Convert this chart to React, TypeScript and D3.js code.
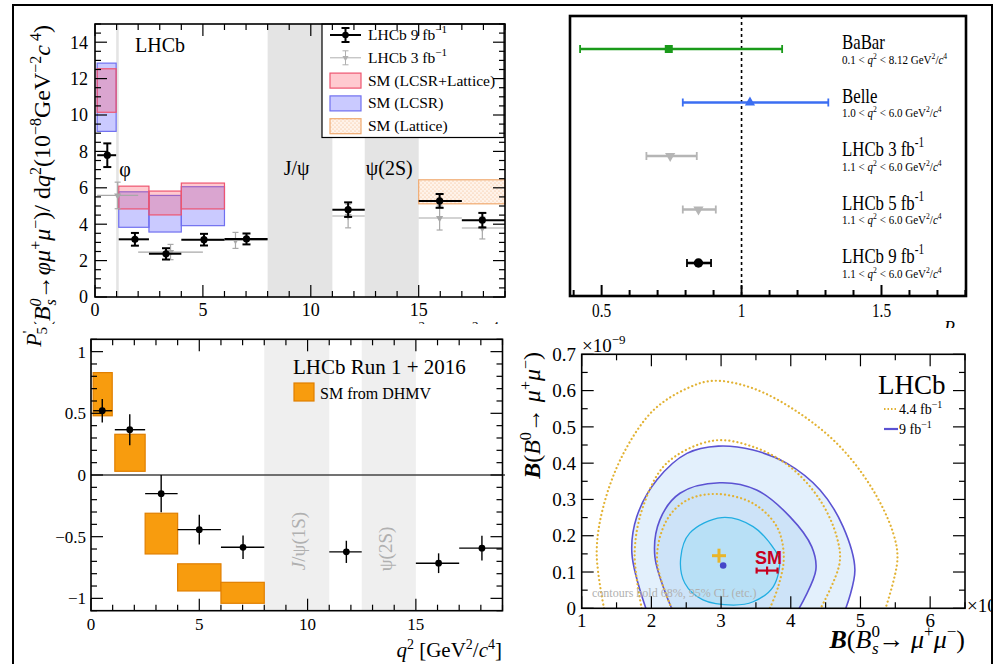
import React from 'react';
import * as d3 from 'd3';

const SERIF = "'Liberation Serif', 'Times New Roman', Times, serif";
const SANS = "'Liberation Sans', Arial, Helvetica, sans-serif";

// ---------------- Panel A: dB/dq2 (Bs -> phi mu mu) ----------------
const phiBandLo = [0.98, 8.0, 12.5];
const phiBandHi = [1.1, 11.0, 15.0];
const phiBandLabels = ['φ', 'J/ψ', 'ψ(2S)'];
const phi9Lo = [0.1, 1.1, 2.5, 4.0, 6.0, 11.0, 15.0, 17.0];
const phi9Hi = [0.98, 2.5, 4.0, 6.0, 8.0, 12.5, 17.0, 19.0];
const phi9X = [0.57, 1.85, 3.29, 5.05, 7.02, 11.73, 15.97, 17.95];
const phi9Val = [7.79, 3.17, 2.37, 3.15, 3.19, 4.8, 5.28, 4.22];
const phi9Err = [0.65, 0.35, 0.31, 0.32, 0.3, 0.4, 0.38, 0.4];
const phi3Lo = [0.1, 2.0, 5.0, 11.0, 15.0, 17.0];
const phi3Hi = [2.0, 5.0, 8.0, 12.5, 17.0, 19.0];
const phi3X = [1.05, 3.5, 6.51, 11.73, 15.97, 17.95];
const phi3Val = [5.58, 2.47, 3.11, 4.45, 4.34, 3.79];
const phi3Err = [0.73, 0.42, 0.44, 0.65, 0.66, 0.6];
const smLo = [0.1, 1.1, 2.5, 4.0];
const smHi = [0.98, 2.5, 4.0, 6.0];
const smLcsrLatMin = [10.15, 4.84, 4.51, 4.84];
const smLcsrLatMax = [12.54, 6.09, 5.82, 6.26];
const smLcsrMin = [9.1, 3.83, 3.57, 3.92];
const smLcsrMax = [12.85, 5.78, 5.58, 6.06];
const smLatLo = [15.0];
const smLatHi = [19.0];
const smLatMin = [5.12];
const smLatMax = [6.44];
const phiYTicks = [0, 2, 4, 6, 8, 10, 12, 14];
const phiXTicks = [0, 5, 10, 15];
const phiLegend = ['LHCb 9 fb', 'LHCb 3 fb', 'SM (LCSR+Lattice)', 'SM (LCSR)', 'SM (Lattice)'];

// ---------------- Panel B: R_K comparison ----------------
const rkNames = ['BaBar', 'Belle', 'LHCb 3 fb', 'LHCb 5 fb', 'LHCb 9 fb'];
const rkSup = ['', '', '-1', '-1', '-1'];
const rkLowQ = ['0.1', '1.0', '1.1', '1.1', '1.1'];
const rkHighQ = ['8.12', '6.0', '6.0', '6.0', '6.0'];
const rkVal = [0.74, 1.03, 0.745, 0.846, 0.846];
const rkLo = [0.423, 0.79, 0.66, 0.79, 0.805];
const rkHi = [1.145, 1.31, 0.84, 0.908, 0.891];
const rkColor = ['#1a9a1a', '#3b6ef2', '#b5b5b5', '#b5b5b5', '#000000'];
const rkMarker = ['square', 'up', 'down', 'down', 'circle'];
const rkXTicks = [0.5, 1, 1.5];
const rkXTickLabels = ['0.5', '1', '1.5'];

// ---------------- Panel C: P5' ----------------
const p5BandLo = [8.0, 12.5];
const p5BandHi = [11.0, 15.0];
const p5Lo = [0.1, 1.1, 2.5, 4.0, 6.0, 11.0, 15.0, 17.0];
const p5Hi = [0.98, 2.5, 4.0, 6.0, 8.0, 12.5, 17.0, 19.0];
const p5X = [0.52, 1.79, 3.24, 5.0, 7.02, 11.79, 16.05, 18.05];
const p5Val = [0.521, 0.367, -0.151, -0.443, -0.586, -0.623, -0.715, -0.593];
const p5Err = [0.095, 0.125, 0.15, 0.12, 0.095, 0.09, 0.08, 0.1];
const dhmvLo = [0.1, 1.1, 2.5, 4.0, 6.0];
const dhmvHi = [0.98, 2.5, 4.0, 6.0, 8.0];
const dhmvMin = [0.48, 0.03, -0.64, -0.94, -1.04];
const dhmvMax = [0.83, 0.33, -0.31, -0.72, -0.87];
const p5YTicks = [-1, -0.5, 0, 0.5, 1];
const p5YTickLabels = ['−1', '−0.5', '0', '0.5', '1'];
const p5XTicks = [0, 5, 10, 15];

// ---------------- Panel D: B(B0->mumu) vs B(Bs->mumu) ----------------
const cOuterDot: [number, number][] = [[1.32, 0], [1.215, 0.152], [1.31, 0.28], [1.6, 0.427], [2.03, 0.546], [2.51, 0.606], [2.89, 0.627], [3.46, 0.606], [4.13, 0.537], [4.71, 0.445], [5.18, 0.326], [5.47, 0.207], [5.53, 0.133], [5.36, 0]];
const cMidDot: [number, number][] = [[1.86, 0], [1.76, 0.152], [1.88, 0.28], [2.22, 0.4], [2.89, 0.462], [3.46, 0.445], [3.99, 0.39], [4.42, 0.298], [4.66, 0.197], [4.7, 0.124], [4.43, 0]];
const cInDot: [number, number][] = [[2.29, 0], [2.08, 0.133], [2.22, 0.243], [2.51, 0.298], [2.94, 0.315], [3.46, 0.289], [3.8, 0.225], [3.9, 0.142], [3.82, 0.06], [3.7, 0]];
const cOuter9: [number, number][] = [[1.92, 0], [1.72, 0.152], [1.79, 0.252], [2.08, 0.354], [2.51, 0.427], [2.96, 0.447], [3.46, 0.436], [3.94, 0.4], [4.42, 0.326], [4.75, 0.225], [4.92, 0.106], [4.79, 0]];
const cMid9: [number, number][] = [[2.29, 0], [2.05, 0.142], [2.12, 0.243], [2.41, 0.317], [2.98, 0.346], [3.51, 0.326], [3.99, 0.252], [4.3, 0.17], [4.36, 0.106], [4.12, 0]];
const cIn9: [number, number][] = [[2.42, 0.138], [2.55, 0.207], [3.01, 0.25], [3.46, 0.225], [3.77, 0.161], [3.84, 0.133], [3.75, 0.06], [3.46, 0.018], [3.18, 0.009], [2.74, 0.023], [2.48, 0.069]];
const best44 = [2.97, 0.145];
const best9 = [3.03, 0.118];
const smBs = [3.66, 0.104];
const smBsErr = [3.51, 3.81];
const mmXTicks = [1, 2, 3, 4, 5, 6];
const mmYTicks = [0, 0.1, 0.2, 0.3, 0.4, 0.5, 0.6, 0.7];

type Lin = d3.ScaleLinear<number, number>;

function ticksX(id: string, s: Lin, vals: number[], ys: number[], dirs: number[], len: number, sw = 1.2) {
  const out: any[] = [];
  vals.forEach((v, i) => ys.forEach((y, j) => out.push(
    <line key={`${id}${i}_${j}`} x1={s(v)} x2={s(v)} y1={y} y2={y + dirs[j] * len} stroke="#000" strokeWidth={sw} />)));
  return out;
}
function ticksY(id: string, s: Lin, vals: number[], xs: number[], dirs: number[], len: number, sw = 1.2) {
  const out: any[] = [];
  vals.forEach((v, i) => xs.forEach((x, j) => out.push(
    <line key={`${id}${i}_${j}`} x1={x} x2={x + dirs[j] * len} y1={s(v)} y2={s(v)} stroke="#000" strokeWidth={sw} />)));
  return out;
}
const near = (a: number, list: number[]) => list.some(b => Math.abs(a - b) < 1e-6);

export default function App() {
  const ax = d3.scaleLinear().domain([0, 19]).range([95, 505]);
  const ay = d3.scaleLinear().domain([0, 15]).range([297, 24]);
  const bx = d3.scaleLinear().domain([0.387, 1.802]).range([570, 966]);
  const by = d3.scalePoint<number>().domain(d3.range(rkNames.length)).range([49, 263]);
  const cx = d3.scaleLinear().domain([0, 19]).range([91, 502.5]);
  const cy = d3.scaleLinear().domain([-1.1, 1.1]).range([610.7, 339.3]);
  const dx = d3.scaleLinear().domain([1, 6.5]).range([581.7, 965]);
  const dy = d3.scaleLinear().domain([0, 0.7]).range([608.3, 354.3]);

  const sym = (t: string, size: number) => {
    const type = t === 'square' ? d3.symbolSquare : t === 'circle' ? d3.symbolCircle : d3.symbolTriangle;
    return d3.symbol(type, size)() as string;
  };

  const lineOpen = d3.line<[number, number]>().x(d => dx(d[0])).y(d => dy(d[1])).curve(d3.curveCatmullRom.alpha(0.5));
  const lineClosed = d3.line<[number, number]>().x(d => dx(d[0])).y(d => dy(d[1])).curve(d3.curveCatmullRomClosed.alpha(0.5));

  const aMinorX = d3.range(0, 19.01, 1).filter(v => !near(v, phiXTicks));
  const aMinorY = d3.range(0, 15.01, 0.5).filter(v => !near(v, phiYTicks));
  const bMinor = d3.range(0.4, 1.81, 0.1).filter(v => !near(v, rkXTicks));
  const cMinorX = d3.range(0, 19.01, 1).filter(v => !near(v, p5XTicks));
  const cMinorY = d3.range(-1.1, 1.101, 0.1).filter(v => !near(v, p5YTicks));
  const dMinorX = d3.range(1.5, 6.51, 1);
  const dMinorY = d3.range(0.05, 0.7, 0.1);

  const legY = (i: number) => 35 + i * 22.8;

  return (
    <svg width={996} height={664} style={{ position: 'absolute', left: 0, top: 0, background: '#fff' }} fontFamily={SERIF}>
      <defs>
        <pattern id="latt" width="4" height="4" patternUnits="userSpaceOnUse">
          <rect width="4" height="4" fill="#fff3ea" />
          <circle cx="1" cy="1" r="0.6" fill="#f2b583" />
          <circle cx="3" cy="3" r="0.6" fill="#f2b583" />
        </pattern>
        <clipPath id="clipD"><rect x={dx(1)} y={dy(0.7)} width={dx(6.5) - dx(1)} height={dy(0) - dy(0.7)} /></clipPath>
        <clipPath id="clipDpanel"><rect x={505} y={328} width={486} height={340} /></clipPath>
      </defs>

      {/* ================= Panel A ================= */}
      <g>
        {phiBandLo.map((lo, i) => (
          <rect key={`ab${i}`} x={ax(lo)} y={ay(15)} width={ax(phiBandHi[i]) - ax(lo)} height={ay(0) - ay(15)} fill="#e4e4e4" />
        ))}
        {smLo.map((lo, i) => (
          <rect key={`sb${i}`} x={ax(lo)} y={ay(smLcsrMax[i])} width={ax(smHi[i]) - ax(lo)} height={ay(smLcsrMin[i]) - ay(smLcsrMax[i])}
            fill="rgba(80,80,255,0.3)" stroke="#7070f0" strokeWidth={1.2} />
        ))}
        {smLo.map((lo, i) => (
          <rect key={`sr${i}`} x={ax(lo)} y={ay(smLcsrLatMax[i])} width={ax(smHi[i]) - ax(lo)} height={ay(smLcsrLatMin[i]) - ay(smLcsrLatMax[i])}
            fill="rgba(255,80,100,0.3)" stroke="#ee5570" strokeWidth={1.2} />
        ))}
        {smLatLo.map((lo, i) => (
          <rect key={`sl${i}`} x={ax(lo)} y={ay(smLatMax[i])} width={ax(smLatHi[i]) - ax(lo)} height={ay(smLatMin[i]) - ay(smLatMax[i])}
            fill="url(#latt)" stroke="#f0aa70" strokeWidth={1.2} />
        ))}
        {/* 3 fb-1 grey */}
        {phi3X.map((x, i) => (
          <g key={`g3${i}`} stroke="#a8a8a8" strokeWidth={1.2}>
            <line x1={ax(phi3Lo[i])} x2={ax(phi3Hi[i])} y1={ay(phi3Val[i])} y2={ay(phi3Val[i])} />
            <line x1={ax(x)} x2={ax(x)} y1={ay(phi3Val[i] - phi3Err[i])} y2={ay(phi3Val[i] + phi3Err[i])} />
            <line x1={ax(x) - 3} x2={ax(x) + 3} y1={ay(phi3Val[i] - phi3Err[i])} y2={ay(phi3Val[i] - phi3Err[i])} />
            <line x1={ax(x) - 3} x2={ax(x) + 3} y1={ay(phi3Val[i] + phi3Err[i])} y2={ay(phi3Val[i] + phi3Err[i])} />
            <path d={sym('tri', 22)} transform={`translate(${ax(x)},${ay(phi3Val[i])}) rotate(180)`} fill="#a8a8a8" stroke="none" />
          </g>
        ))}
        {/* 9 fb-1 black */}
        {phi9X.map((x, i) => (
          <g key={`g9${i}`} stroke="#000" strokeWidth={2}>
            <line x1={ax(phi9Lo[i])} x2={ax(phi9Hi[i])} y1={ay(phi9Val[i])} y2={ay(phi9Val[i])} />
            <line x1={ax(x)} x2={ax(x)} y1={ay(phi9Val[i] - phi9Err[i])} y2={ay(phi9Val[i] + phi9Err[i])} />
            <line x1={ax(x) - 4} x2={ax(x) + 4} y1={ay(phi9Val[i] - phi9Err[i])} y2={ay(phi9Val[i] - phi9Err[i])} />
            <line x1={ax(x) - 4} x2={ax(x) + 4} y1={ay(phi9Val[i] + phi9Err[i])} y2={ay(phi9Val[i] + phi9Err[i])} />
            <circle cx={ax(x)} cy={ay(phi9Val[i])} r={3.6} fill="#000" stroke="none" />
          </g>
        ))}
        <text x={135} y={52} fontSize={20}>LHCb</text>
        <text x={ax(phiBandLo[0]) + 3} y={176} fontSize={20}>{phiBandLabels[0]}</text>
        <text x={ax(phiBandLo[1]) + 16} y={175} fontSize={20}>{phiBandLabels[1]}</text>
        <text x={ax(phiBandLo[2]) + 1} y={175} fontSize={20}>{phiBandLabels[2]}</text>

        {/* legend */}
        <rect x={322} y={24} width={182} height={113.5} fill="#fff" stroke="#000" strokeWidth={1.2} />
        <g stroke="#000" strokeWidth={2}>
          <line x1={330} x2={361} y1={legY(0)} y2={legY(0)} />
          <line x1={345.5} x2={345.5} y1={legY(0) - 7} y2={legY(0) + 7} />
          <line x1={341.5} x2={349.5} y1={legY(0) - 7} y2={legY(0) - 7} />
          <line x1={341.5} x2={349.5} y1={legY(0) + 7} y2={legY(0) + 7} />
          <circle cx={345.5} cy={legY(0)} r={3.3} fill="#000" stroke="none" />
        </g>
        <g stroke="#b0b0b0" strokeWidth={1}>
          <line x1={330} x2={361} y1={legY(1)} y2={legY(1)} />
          <line x1={345.5} x2={345.5} y1={legY(1) - 7} y2={legY(1) + 7} />
          <line x1={342.5} x2={348.5} y1={legY(1) - 7} y2={legY(1) - 7} />
          <line x1={342.5} x2={348.5} y1={legY(1) + 7} y2={legY(1) + 7} />
          <path d={sym('tri', 16)} transform={`translate(345.5,${legY(1)}) rotate(180)`} fill="#b0b0b0" stroke="none" />
        </g>
        <rect x={330} y={legY(2) - 7.5} width={31} height={15} fill="rgba(255,80,100,0.3)" stroke="#ee5570" strokeWidth={1.2} />
        <rect x={330} y={legY(3) - 7.5} width={31} height={15} fill="rgba(80,80,255,0.3)" stroke="#7070f0" strokeWidth={1.2} />
        <rect x={330} y={legY(4) - 7.5} width={31} height={15} fill="url(#latt)" stroke="#f0aa70" strokeWidth={1.2} />
        {phiLegend.map((t, i) => (
          <text key={`al${i}`} x={368} y={legY(i) + 5} fontSize={15.5}>
            {t}{i < 2 ? <tspan dy={-7} fontSize={11}>−1</tspan> : null}
          </text>
        ))}

        {/* frame + ticks */}
        <rect x={ax(0)} y={ay(15)} width={ax(19) - ax(0)} height={ay(0) - ay(15)} fill="none" stroke="#000" strokeWidth={1.6} />
        {ticksX('axM', ax, phiXTicks, [ay(0), ay(15)], [-1, 1], 12)}
        {ticksX('axm', ax, aMinorX, [ay(0), ay(15)], [-1, 1], 6)}
        {ticksY('ayM', ay, phiYTicks, [ax(0), ax(19)], [1, -1], 12)}
        {ticksY('aym', ay, aMinorY, [ax(0), ax(19)], [1, -1], 6)}
        {phiYTicks.map((v, i) => (
          <text key={`ayl${i}`} x={88} y={ay(v)} dy="0.35em" textAnchor="end" fontSize={18}>{v}</text>
        ))}
        {phiXTicks.map((v, i) => (
          <text key={`axl${i}`} x={ax(v)} y={316} textAnchor="middle" fontSize={18}>{v}</text>
        ))}
        <text x={505} y={338} textAnchor="end" fontSize={19}>
          <tspan fontStyle="italic">q</tspan><tspan dy={-8} fontSize={13}>2</tspan><tspan dy={8}> [GeV</tspan><tspan dy={-8} fontSize={13}>2</tspan><tspan dy={8}>/</tspan><tspan fontStyle="italic">c</tspan><tspan dy={-8} fontSize={13}>4</tspan><tspan dy={8}>]</tspan>
        </text>
        <text transform="translate(50,25) rotate(-90)" textAnchor="end" fontSize={24}>
          d<tspan fontStyle="italic">B</tspan>(<tspan fontStyle="italic">B</tspan><tspan dy={-9} fontSize={16} fontStyle="italic">0</tspan><tspan dx={-7} dy={15} fontSize={16} fontStyle="italic">s</tspan><tspan dy={-6}>→</tspan><tspan fontStyle="italic">φμ</tspan><tspan dy={-9} fontSize={16}>+</tspan><tspan dy={9} fontStyle="italic">μ</tspan><tspan dy={-9} fontSize={16}>−</tspan><tspan dy={9}>)/ d</tspan><tspan fontStyle="italic">q</tspan><tspan dy={-9} fontSize={16}>2</tspan><tspan dy={9}>(10</tspan><tspan dy={-9} fontSize={16}>−8</tspan><tspan dy={9}>GeV</tspan><tspan dy={-9} fontSize={16}>−2</tspan><tspan dy={9} fontStyle="italic">c</tspan><tspan dy={-9} fontSize={16}> 4</tspan><tspan dy={9}>)</tspan>
        </text>
      </g>

      {/* ================= Panel B ================= */}
      <g>
        <line x1={bx(1)} x2={bx(1)} y1={16} y2={296} stroke="#000" strokeWidth={1.6} strokeDasharray="3,3" />
        {rkVal.map((v, i) => {
          const y = by(i) as number;
          const t = rkMarker[i];
          return (
            <g key={`rk${i}`} stroke={rkColor[i]} strokeWidth={2.6}>
              <line x1={bx(rkLo[i])} x2={bx(rkHi[i])} y1={y} y2={y} />
              <line x1={bx(rkLo[i])} x2={bx(rkLo[i])} y1={y - 4} y2={y + 4} strokeWidth={1.8} />
              <line x1={bx(rkHi[i])} x2={bx(rkHi[i])} y1={y - 4} y2={y + 4} strokeWidth={1.8} />
              <path d={sym(t, t === 'square' ? 64 : t === 'circle' ? 70 : 45)} stroke="none" fill={rkColor[i]}
                transform={`translate(${bx(v)},${y}) ${t === 'down' ? 'rotate(180)' : ''}`} />
            </g>
          );
        })}
        {rkNames.map((n, i) => {
          const y = by(i) as number;
          return (
            <g key={`rkt${i}`}>
              <text transform={`translate(842,${y}) scale(0.8,1)`} fontSize={21}>
                {n}{rkSup[i] ? <tspan dy={-9} fontSize={14}>{rkSup[i]}</tspan> : null}
              </text>
              <text transform={`translate(842,${y + 14.5}) scale(0.85,1)`} fontSize={13}>
                {rkLowQ[i]} &lt; <tspan fontStyle="italic">q</tspan><tspan dy={-5} fontSize={9}>2</tspan><tspan dy={5}> &lt; {rkHighQ[i]} GeV</tspan><tspan dy={-5} fontSize={9}>2</tspan><tspan dy={5}>/</tspan><tspan fontStyle="italic">c</tspan><tspan dy={-5} fontSize={9}>4</tspan>
              </text>
            </g>
          );
        })}
        <rect x={570} y={16} width={396} height={280} fill="none" stroke="#000" strokeWidth={2.6} />
        {ticksX('bxM', bx, rkXTicks, [296], [-1], 11, 2)}
        {ticksX('bxm', bx, bMinor, [296], [-1], 6, 2)}
        {rkXTicks.map((v, i) => (
          <text key={`bxl${i}`} transform={`translate(${bx(v)},317) scale(0.85,1)`} textAnchor="middle" fontSize={18}>{rkXTickLabels[i]}</text>
        ))}
        <text x={944} y={334} fontSize={18} fontStyle="italic">R<tspan dy={4} fontSize={12}>K</tspan></text>
      </g>

      {/* ================= Panel C ================= */}
      <g>
        <rect x={14} y={324} width={491} height={345} fill="#fff" />
        {p5BandLo.map((lo, i) => (
          <rect key={`cb${i}`} x={cx(lo)} y={cy(1.1)} width={cx(p5BandHi[i]) - cx(lo)} height={cy(-1.1) - cy(1.1)} fill="#efefef" />
        ))}
        <text transform={`translate(305,541) rotate(-90)`} textAnchor="middle" fontSize={19} fill="#b0b0b0">
          <tspan fontStyle="italic">J</tspan>/ψ(1S)
        </text>
        <text transform={`translate(392,549) rotate(-90)`} textAnchor="middle" fontSize={19} fill="#b0b0b0">ψ(2S)</text>
        <line x1={cx(0)} x2={505} y1={cy(0)} y2={cy(0)} stroke="#444" strokeWidth={1.6} />
        {dhmvLo.map((lo, i) => (
          <rect key={`cd${i}`} x={cx(lo)} y={cy(dhmvMax[i])} width={cx(dhmvHi[i]) - cx(lo)} height={cy(dhmvMin[i]) - cy(dhmvMax[i])}
            fill="#f89c0e" stroke="#e07f00" strokeWidth={1.2} />
        ))}
        {p5X.map((x, i) => (
          <g key={`cp${i}`} stroke="#000" strokeWidth={1.4}>
            <line x1={cx(p5Lo[i])} x2={cx(p5Hi[i])} y1={cy(p5Val[i])} y2={cy(p5Val[i])} />
            <line x1={cx(x)} x2={cx(x)} y1={cy(p5Val[i] - p5Err[i])} y2={cy(p5Val[i] + p5Err[i])} />
            <circle cx={cx(x)} cy={cy(p5Val[i])} r={3.4} fill="#000" stroke="none" />
          </g>
        ))}
        <text x={293} y={374} fontSize={21}>LHCb Run 1 + 2016</text>
        <rect x={294} y={383} width={20} height={18} fill="#f89c0e" stroke="#e07f00" strokeWidth={1.2} />
        <text x={320} y={399} fontSize={16}>SM from DHMV</text>
        <rect x={cx(0)} y={cy(1.1)} width={cx(19) - cx(0)} height={cy(-1.1) - cy(1.1)} fill="none" stroke="#000" strokeWidth={1.6} />
        {ticksX('cxM', cx, p5XTicks, [cy(-1.1), cy(1.1)], [-1, 1], 12)}
        {ticksX('cxm', cx, cMinorX, [cy(-1.1), cy(1.1)], [-1, 1], 6)}
        {ticksY('cyM', cy, p5YTicks, [cx(0), cx(19)], [1, -1], 12)}
        {ticksY('cym', cy, cMinorY, [cx(0), cx(19)], [1, -1], 6)}
        {p5YTicks.map((v, i) => (
          <text key={`cyl${i}`} x={86} y={cy(v)} dy="0.35em" textAnchor="end" fontSize={17}>{p5YTickLabels[i]}</text>
        ))}
        {p5XTicks.map((v, i) => (
          <text key={`cxl${i}`} x={cx(v)} y={630} textAnchor="middle" fontSize={17}>{v}</text>
        ))}
        <text x={502} y={657} textAnchor="end" fontSize={21}>
          <tspan fontStyle="italic">q</tspan><tspan dy={-8} fontSize={14}>2</tspan><tspan dy={8}> [GeV</tspan><tspan dy={-8} fontSize={14}>2</tspan><tspan dy={8}>/</tspan><tspan fontStyle="italic">c</tspan><tspan dy={-8} fontSize={14}>4</tspan><tspan dy={8}>]</tspan>
        </text>
        <text transform="translate(41,327) rotate(-90)" textAnchor="end" fontSize={22}>
          <tspan fontStyle="italic">P</tspan><tspan dy={-8} fontSize={15}>'</tspan><tspan dx={-4} dy={14} fontSize={15}>5</tspan>
        </text>
      </g>

      {/* ================= Panel D ================= */}
      <g clipPath="url(#clipDpanel)">
        <rect x={505} y={328} width={486} height={340} fill="#fff" />
        <g clipPath="url(#clipD)">
          <path d={lineOpen(cOuter9) + 'Z'} fill="#e3f0fc" stroke="none" />
          <path d={lineOpen(cMid9) + 'Z'} fill="#cde3f8" stroke="none" />
          <path d={lineClosed(cIn9) as string} fill="#b8e0f6" stroke="none" />
          <path d={lineOpen(cOuter9) as string} fill="none" stroke="#5b52d2" strokeWidth={1.6} />
          <path d={lineOpen(cMid9) as string} fill="none" stroke="#5b52d2" strokeWidth={1.6} />
          <path d={lineClosed(cIn9) as string} fill="none" stroke="#22aee2" strokeWidth={1.3} />
          {[cOuterDot, cMidDot, cInDot].map((c, i) => (
            <path key={`dd${i}`} d={lineOpen(c) as string} fill="none" stroke="#e2b233" strokeWidth={2.2} strokeDasharray="0.1,4" strokeLinecap="round" />
          ))}
        </g>
        <text x={592} y={597} fontSize={12} fill="#b0b0b0">contours hold 68%, 95% CL (etc.)</text>
        <g stroke="#e8b52a" strokeWidth={3}>
          <line x1={dx(best44[0]) - 7} x2={dx(best44[0]) + 7} y1={dy(best44[1])} y2={dy(best44[1])} />
          <line x1={dx(best44[0])} x2={dx(best44[0])} y1={dy(best44[1]) - 7} y2={dy(best44[1]) + 7} />
        </g>
        <circle cx={dx(best9[0])} cy={dy(best9[1])} r={3.3} fill="#4646c8" />
        <g stroke="#c8001e" strokeWidth={2.2}>
          <line x1={dx(smBsErr[0])} x2={dx(smBsErr[1])} y1={dy(smBs[1])} y2={dy(smBs[1])} />
          <line x1={dx(smBsErr[0])} x2={dx(smBsErr[0])} y1={dy(smBs[1]) - 3} y2={dy(smBs[1]) + 3} />
          <line x1={dx(smBsErr[1])} x2={dx(smBsErr[1])} y1={dy(smBs[1]) - 3} y2={dy(smBs[1]) + 3} />
          <line x1={dx(smBs[0])} x2={dx(smBs[0])} y1={dy(smBs[1]) - 4} y2={dy(smBs[1]) + 4} />
        </g>
        <text x={755} y={564} fontSize={18} fontWeight="bold" fill="#c8001e" fontFamily={SANS}>SM</text>
        <text x={878} y={394} fontSize={27}>LHCb</text>
        <line x1={884} x2={898} y1={409} y2={409} stroke="#e2b233" strokeWidth={2} strokeDasharray="1.5,2" />
        <text x={899} y={414} fontSize={14}>4.4 fb<tspan dy={-6} fontSize={10}>−1</tspan></text>
        <line x1={884} x2={898} y1={429} y2={429} stroke="#5b52d2" strokeWidth={2.2} />
        <text x={899} y={434} fontSize={14}>9 fb<tspan dy={-6} fontSize={10}>−1</tspan></text>

        <rect x={dx(1)} y={dy(0.7)} width={dx(6.5) - dx(1)} height={dy(0) - dy(0.7)} fill="none" stroke="#000" strokeWidth={1.6} />
        {ticksX('dxM', dx, mmXTicks, [dy(0), dy(0.7)], [-1, 1], 12)}
        {ticksX('dxm', dx, dMinorX, [dy(0), dy(0.7)], [-1, 1], 6)}
        {ticksY('dyM', dy, mmYTicks, [dx(1), dx(6.5)], [1, -1], 12)}
        {ticksY('dym', dy, dMinorY, [dx(1), dx(6.5)], [1, -1], 6)}
        {mmYTicks.map((v, i) => (
          <text key={`dyl${i}`} x={576} y={dy(v)} dy="0.35em" textAnchor="end" fontSize={19}>{v}</text>
        ))}
        {mmXTicks.map((v, i) => (
          <text key={`dxl${i}`} x={dx(v)} y={627} textAnchor="middle" fontSize={19}>{v}</text>
        ))}
        <text x={582} y={352} fontSize={19}>×10<tspan dy={-8} fontSize={13}>−9</tspan></text>
        <text x={967} y={612} fontSize={19}>×10<tspan dy={-8} fontSize={13}>−9</tspan></text>
        <text transform="translate(540,352) rotate(-90)" textAnchor="end" fontSize={24}>
          <tspan fontWeight="bold" fontStyle="italic">B</tspan>(<tspan fontStyle="italic">B</tspan><tspan dy={-9} fontSize={16}>0</tspan><tspan dy={9}>→ </tspan><tspan fontStyle="italic">μ</tspan><tspan dy={-9} fontSize={16}>+</tspan><tspan dy={9} fontStyle="italic">μ</tspan><tspan dy={-9} fontSize={16}>−</tspan><tspan dy={9}>)</tspan>
        </text>
        <text x={965} y={648} textAnchor="end" fontSize={26}>
          <tspan fontWeight="bold" fontStyle="italic">B</tspan>(<tspan fontStyle="italic">B</tspan><tspan dy={-11} fontSize={17}>0</tspan><tspan dx={-8} dy={17} fontSize={17} fontStyle="italic">s</tspan><tspan dy={-6}>→ </tspan><tspan fontStyle="italic">μ</tspan><tspan dy={-11} fontSize={17}>+</tspan><tspan dy={11} fontStyle="italic">μ</tspan><tspan dy={-11} fontSize={17}>−</tspan><tspan dy={11}>)</tspan>
        </text>
      </g>

      {/* outer frame */}
      <rect x={13} y={5} width={979} height={700} fill="none" stroke="#000" strokeWidth={2} />
    </svg>
  );
}
